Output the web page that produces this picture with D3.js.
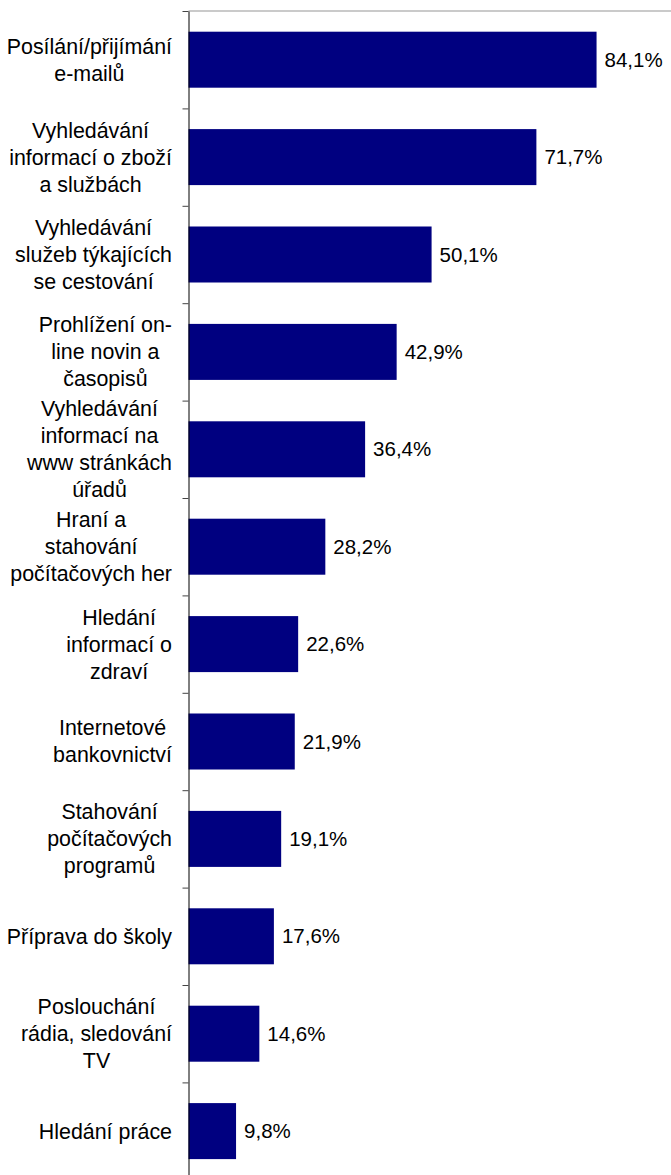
<!DOCTYPE html>
<html>
<head>
<meta charset="utf-8">
<script src="https://cdn.jsdelivr.net/npm/d3@7"></script>
<style>
  html, body { margin: 0; padding: 0; background: #fff; }
  svg text { font-family: "Liberation Sans", Arial, sans-serif; fill: #000; }
</style>
</head>
<body>
<svg id="chart" width="671" height="1175"></svg>
<script>
// labels as shown in the chart, lines split the way they wrap there
var categories = [
  "Posílání/přijímání|e-mailů",
  "Vyhledávání|informací o zboží|a službách",
  "Vyhledávání|služeb týkajících|se cestování",
  "Prohlížení on-|line novin a|časopisů",
  "Vyhledávání|informací na|www stránkách|úřadů",
  "Hraní a|stahování|počítačových her",
  "Hledání|informací o|zdraví",
  "Internetové|bankovnictví",
  "Stahování|počítačových|programů",
  "Příprava do školy",
  "Poslouchání|rádia, sledování|TV",
  "Hledání práce"
];
var values = [84.1, 71.7, 50.1, 42.9, 36.4, 28.2, 22.6, 21.9, 19.1, 17.6, 14.6, 9.8];
var xDomain = [0, 100];

var svg = d3.select("#chart");
var axisX = 188.5, plotTop = 11, step = 97.4;
var plotBottom = plotTop + step * categories.length;

var x = d3.scaleLinear().domain(xDomain).range([axisX, axisX + 485.2]);
var y = d3.scaleBand()
    .domain(d3.range(categories.length))
    .range([plotTop, plotBottom])
    .paddingInner(0.425)
    .paddingOuter(0.2125);
// category boundaries, for the tick marks
var yEdge = d3.scaleLinear().domain([0, categories.length]).range([plotTop, plotBottom]);

// top border of plot area
svg.append("line")
    .attr("x1", axisX).attr("x2", 671)
    .attr("y1", plotTop).attr("y2", plotTop)
    .attr("stroke", "#b8b8b8").attr("stroke-width", 1.5);

svg.append("g").selectAll("rect")
    .data(values)
    .join("rect")
    .attr("x", x(0))
    .attr("y", function (d, i) { return y(i); })
    .attr("width", function (d) { return x(d) - x(0); })
    .attr("height", y.bandwidth())
    .attr("fill", "#000080");

var axis = svg.append("g")
    .attr("transform", "translate(" + axisX + ",0)")
    .call(d3.axisLeft(yEdge)
        .tickValues(d3.range(categories.length + 1))
        .tickSizeInner(6).tickSizeOuter(0)
        .tickFormat(""));
axis.select(".domain").attr("stroke", "#000");
axis.selectAll(".tick line").attr("stroke", "#444");

// value labels
svg.append("g").selectAll("text")
    .data(values)
    .join("text")
    .attr("x", function (d) { return x(d) + 8; })
    .attr("y", function (d, i) { return y(i) + y.bandwidth() / 2; })
    .attr("dy", "0.35em")
    .attr("font-size", 20.5)
    .text(function (d) { return d3.format(".1f")(d).replace(".", ",") + "%"; });

// category labels: lines centred within the block, block right-aligned
var lineH = 27, labelRight = 172;
categories.forEach(function (c, i) {
    var lines = c.split("|");
    var cy = y(i) + y.bandwidth() / 2;
    var g = svg.append("g");
    var texts = lines.map(function (ln, k) {
        return g.append("text")
            .attr("y", cy + (k - (lines.length - 1) / 2) * lineH)
            .attr("dy", "0.35em")
            .attr("font-size", 21.4)
            .attr("text-anchor", "middle")
            .text(ln);
    });
    var maxW = d3.max(texts, function (t) { return t.node().getComputedTextLength(); });
    texts.forEach(function (t) { t.attr("x", labelRight - maxW / 2); });
});
</script>
</body>
</html>
